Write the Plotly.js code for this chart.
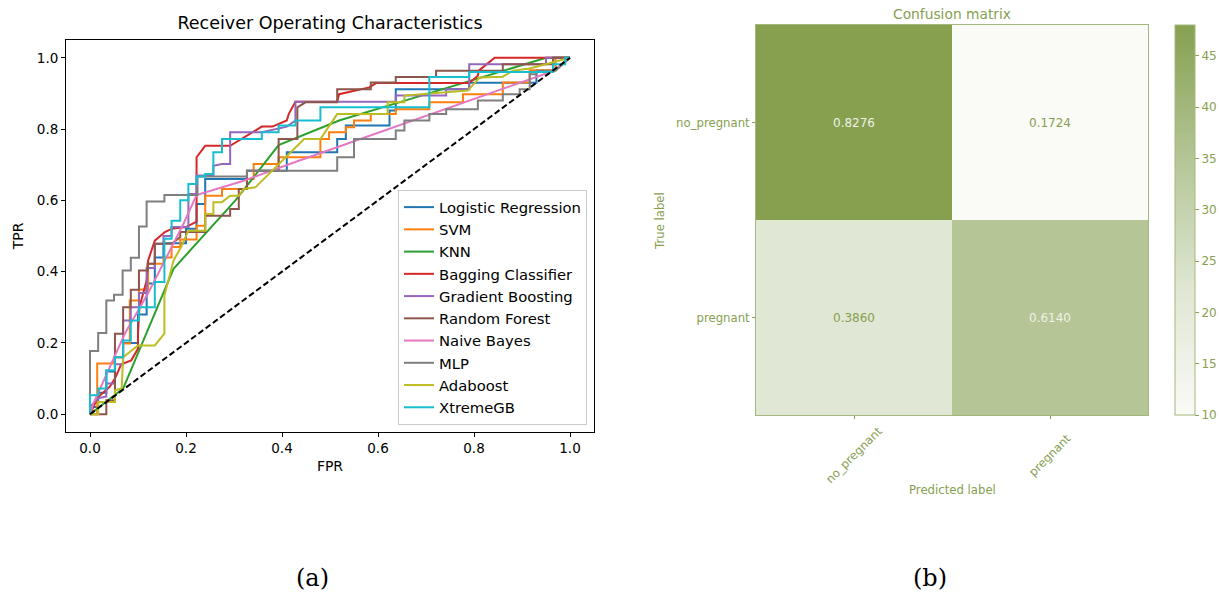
<!DOCTYPE html>
<html>
<head>
<meta charset="utf-8">
<script src="https://cdn.plot.ly/plotly-3.0.1.min.js"></script>
<style>
body { margin:0; background:#fff; }
#page { position:relative; width:1219px; height:593px; overflow:hidden; background:#fff; }
#roc { position:absolute; left:0; top:0; width:1219px; height:593px; }
#cmwrap { position:absolute; left:620px; top:0; width:700px; height:593px; }
#cm { width:700px; height:593px; }
</style>
</head>
<body>
<div id="page">
  <div id="roc"></div>
  <div id="cmwrap"><div id="cm"></div></div>
</div>
<script>
// ---------------- ROC data (FPR / TPR) ----------------
const modelNames = ['Logistic Regression','SVM','KNN','Bagging Classifier','Gradient Boosting','Random Forest','Naive Bayes','MLP','Adaboost','XtremeGB'];
const modelColors = ['#1f77b4','#ff7f0e','#2ca02c','#d62728','#9467bd','#8c564b','#e377c2','#7f7f7f','#bcbd22','#17becf'];

const lrFpr = [0,0,0.017,0.017,0.034,0.034,0.052,0.052,0.069,0.069,0.1,0.1,0.118,0.118,0.135,0.135,0.153,0.153,0.2,0.2,0.222,0.222,0.24,0.24,0.327,0.327,0.41,0.41,0.515,0.515,0.533,0.533,0.624,0.624,0.637,0.637,0.79,0.79,0.93,0.93,0.965,0.965,1];
const lrTpr = [0,0.02,0.02,0.06,0.06,0.12,0.12,0.16,0.16,0.2,0.2,0.28,0.28,0.367,0.367,0.44,0.44,0.48,0.48,0.52,0.52,0.59,0.59,0.66,0.66,0.683,0.683,0.735,0.735,0.772,0.772,0.81,0.81,0.852,0.852,0.912,0.912,0.93,0.93,0.964,0.964,1,1];

const svmFpr = [0,0.015,0.015,0.05,0.05,0.069,0.069,0.083,0.083,0.102,0.102,0.121,0.121,0.153,0.153,0.17,0.17,0.188,0.188,0.222,0.222,0.24,0.24,0.275,0.275,0.327,0.327,0.341,0.341,0.393,0.393,0.48,0.48,0.498,0.498,0.533,0.533,0.55,0.55,0.585,0.585,0.637,0.637,0.707,0.707,0.777,0.777,0.86,0.86,0.916,0.916,0.97,0.97,1];
const svmTpr = [0,0,0.142,0.142,0.16,0.16,0.198,0.198,0.319,0.319,0.35,0.35,0.422,0.422,0.44,0.44,0.469,0.469,0.49,0.49,0.529,0.529,0.613,0.613,0.632,0.632,0.66,0.66,0.702,0.702,0.721,0.721,0.772,0.772,0.791,0.791,0.805,0.805,0.824,0.824,0.842,0.842,0.856,0.856,0.875,0.875,0.898,0.898,0.931,0.931,0.965,0.965,1,1];

const knnFpr = [0,0.069,0.174,0.303,0.393,0.519,0.644,0.95,1];
const knnTpr = [0,0.072,0.408,0.6,0.755,0.824,0.875,1,1];

const bagFpr = [0,0.017,0.041,0.052,0.065,0.086,0.1,0.1,0.103,0.118,0.121,0.135,0.156,0.17,0.2,0.222,0.222,0.24,0.292,0.327,0.358,0.38,0.41,0.414,0.428,0.515,0.519,0.582,0.596,0.79,0.808,0.81,0.843,1];
const bagTpr = [0,0.048,0.077,0.1,0.14,0.151,0.184,0.226,0.3,0.375,0.431,0.487,0.511,0.52,0.525,0.54,0.721,0.753,0.753,0.781,0.807,0.807,0.824,0.842,0.877,0.877,0.898,0.917,0.929,0.929,0.95,0.964,1,1];

const gbFpr = [0,0,0.017,0.034,0.034,0.052,0.052,0.069,0.069,0.085,0.085,0.102,0.102,0.118,0.118,0.135,0.135,0.153,0.153,0.17,0.17,0.205,0.205,0.222,0.222,0.257,0.257,0.275,0.292,0.292,0.358,0.41,0.428,0.428,0.637,0.637,0.742,0.742,0.79,0.79,0.95,0.95,1];
const gbTpr = [0,0.02,0.045,0.05,0.086,0.086,0.14,0.14,0.263,0.263,0.3,0.3,0.34,0.34,0.41,0.41,0.478,0.478,0.5,0.5,0.525,0.525,0.618,0.618,0.67,0.67,0.697,0.702,0.702,0.791,0.791,0.807,0.824,0.877,0.877,0.894,0.894,0.912,0.912,0.982,0.982,1,1];

const rfFpr = [0,0.034,0.034,0.052,0.052,0.069,0.069,0.085,0.085,0.102,0.102,0.12,0.12,0.135,0.135,0.17,0.188,0.188,0.24,0.24,0.292,0.292,0.31,0.31,0.327,0.327,0.393,0.393,0.432,0.432,0.449,0.515,0.515,0.585,0.585,0.637,0.637,0.721,0.721,0.86,0.86,0.965,0.965,1];
const rfTpr = [0,0,0.039,0.039,0.226,0.226,0.3,0.3,0.349,0.349,0.403,0.403,0.422,0.422,0.478,0.478,0.497,0.511,0.511,0.557,0.557,0.576,0.576,0.632,0.632,0.683,0.683,0.772,0.772,0.861,0.875,0.875,0.912,0.912,0.931,0.931,0.946,0.946,0.964,0.964,0.982,0.982,1,1];

const nbFpr = [0,0.007,0.073,0.121,0.195,0.222,0.32,0.435,0.965,1];
const nbTpr = [0,0.03,0.227,0.339,0.535,0.615,0.655,0.711,0.963,1];

const mlpFpr = [0,0,0.017,0.017,0.034,0.034,0.05,0.05,0.068,0.068,0.085,0.085,0.102,0.102,0.118,0.118,0.155,0.155,0.224,0.224,0.327,0.327,0.515,0.515,0.55,0.55,0.637,0.637,0.655,0.655,0.707,0.707,0.742,0.742,0.808,0.808,0.86,0.86,0.895,0.895,0.916,0.916,0.93,0.93,0.97,1];
const mlpTpr = [0,0.177,0.177,0.228,0.228,0.319,0.319,0.335,0.335,0.403,0.403,0.439,0.439,0.527,0.527,0.597,0.597,0.615,0.615,0.667,0.667,0.683,0.683,0.721,0.721,0.772,0.772,0.796,0.796,0.824,0.824,0.842,0.842,0.856,0.856,0.88,0.88,0.898,0.898,0.912,0.912,0.954,0.954,0.964,0.964,1];

const adaFpr = [0,0.017,0.017,0.052,0.052,0.066,0.069,0.1,0.135,0.155,0.155,0.163,0.174,0.19,0.205,0.24,0.24,0.257,0.257,0.275,0.292,0.31,0.32,0.345,0.393,0.446,0.48,0.515,0.62,0.62,0.655,0.655,0.787,0.812,0.86,0.881,0.916,0.993,1];
const adaTpr = [0,0,0.034,0.034,0.067,0.072,0.16,0.193,0.193,0.226,0.333,0.375,0.431,0.47,0.515,0.515,0.562,0.562,0.595,0.595,0.613,0.613,0.632,0.637,0.702,0.772,0.772,0.842,0.842,0.875,0.875,0.894,0.908,0.945,0.947,0.964,0.97,0.996,1];

const xgbFpr = [0,0,0.017,0.017,0.034,0.034,0.052,0.052,0.069,0.069,0.085,0.085,0.102,0.102,0.135,0.135,0.155,0.155,0.17,0.17,0.188,0.188,0.205,0.205,0.222,0.222,0.24,0.24,0.257,0.257,0.275,0.275,0.358,0.358,0.393,0.393,0.428,0.428,0.48,0.48,0.707,0.707,0.79,0.79,0.965,0.965,0.99,0.99,1];
const xgbTpr = [0,0.053,0.053,0.072,0.072,0.123,0.123,0.16,0.16,0.207,0.207,0.263,0.263,0.3,0.3,0.371,0.371,0.492,0.492,0.543,0.543,0.6,0.6,0.646,0.646,0.667,0.667,0.674,0.674,0.735,0.735,0.772,0.772,0.791,0.791,0.81,0.81,0.824,0.824,0.861,0.861,0.946,0.946,0.96,0.96,0.982,0.982,1,1];

const chanceFpr = [0,1];
const chanceTpr = [0,1];

const rocFprs = [lrFpr,svmFpr,knnFpr,bagFpr,gbFpr,rfFpr,nbFpr,mlpFpr,adaFpr,xgbFpr];
const rocTprs = [lrTpr,svmTpr,knnTpr,bagTpr,gbTpr,rfTpr,nbTpr,mlpTpr,adaTpr,xgbTpr];
const rocTicks = [0,0.2,0.4,0.6,0.8,1.0];
const rocTickText = ['0.0','0.2','0.4','0.6','0.8','1.0'];

// ---------------- Confusion matrix data ----------------
const cmClasses = ['no_pregnant','pregnant'];
const cmCounts = [[48,10],[22,35]];
const cmNormalized = [[0.8276,0.1724],[0.3860,0.6140]];
const cbTicks = [10,15,20,25,30,35,40,45];

// ---------------- ROC figure ----------------
const FONT = 'DejaVu Sans, sans-serif';
const rocTraces = modelNames.map((n,i) => ({
  type:'scatter', mode:'lines', name:n, x:rocFprs[i], y:rocTprs[i],
  line:{color:modelColors[i], width:2}
}));
rocTraces.push({type:'scatter', mode:'lines', x:chanceFpr, y:chanceTpr, showlegend:false,
  line:{color:'#000', width:2, dash:'6px,3px'}});

const axBase = {showgrid:false, zeroline:false, showline:true, mirror:true, linecolor:'#000', linewidth:1,
  ticks:'outside', ticklen:4, tickcolor:'#000', tickfont:{family:FONT, size:13.5, color:'#000'},
  tickmode:'array', tickvals:rocTicks, ticktext:rocTickText};

const rocLayout = {
  width:1219, height:593,
  margin:{l:66, r:625, t:40, b:161},
  paper_bgcolor:'rgba(0,0,0,0)', plot_bgcolor:'#fff',
  font:{family:FONT, color:'#000'},
  title:{text:'Receiver Operating Characteristics', font:{family:FONT, size:17.5, color:'#000'},
    xref:'paper', x:0.5, xanchor:'center', yref:'container', y:1-23/593, yanchor:'middle'},
  xaxis:Object.assign({}, axBase, {range:[-0.05,1.05],
    title:{text:'FPR', font:{family:FONT, size:14, color:'#000'}, standoff:5}}),
  yaxis:Object.assign({}, axBase, {range:[-0.05,1.05],
    title:{text:'TPR', font:{family:FONT, size:14, color:'#000'}, standoff:9}}),
  legend:{x:(587-66)/528, xanchor:'right', y:(432-425)/392, yanchor:'bottom',
    bgcolor:'#fff', bordercolor:'#cccccc', borderwidth:1,
    font:{family:FONT, size:14.8, color:'#000'}, tracegroupgap:0},
  showlegend:true,
  annotations:[
    {text:'(a)', xref:'paper', yref:'paper', x:(312-66)/528, y:(432-578)/392, xanchor:'center', yanchor:'middle',
      showarrow:false, font:{family:'DejaVu Serif, serif', size:24, color:'#000'}},
    {text:'(b)', xref:'paper', yref:'paper', x:(930-66)/528, y:(432-578)/392, xanchor:'center', yanchor:'middle',
      showarrow:false, font:{family:'DejaVu Serif, serif', size:24, color:'#000'}}
  ]
};
Plotly.newPlot('roc', rocTraces, rocLayout, {staticPlot:true, displayModeBar:false});

// ---------------- Confusion matrix figure ----------------
const OL = '#86a050';
const OL_LINE = '#a3b87c';
const PW = 392; // plot width in px
const cmTrace = {
  type:'heatmap', x:cmClasses, y:cmClasses, z:cmCounts,
  zmin:10, zmax:48,
  colorscale:[[0,'#fafaf7'],[0.316,'#e0e7d4'],[0.658,'#b5c596'],[1,'#86a050']],
  xgap:0, ygap:0, hoverinfo:'none',
  colorbar:{x:(555-136)/PW, xanchor:'left', xpad:0, ypad:0, thickness:20, thicknessmode:'pixels',
    len:390, lenmode:'pixels', y:0.5, yanchor:'middle',
    outlinecolor:OL_LINE, outlinewidth:1,
    tickmode:'array', tickvals:cbTicks, ticks:'outside', ticklen:4, tickcolor:OL,
    tickfont:{family:FONT, size:12, color:OL}}
};
const cmAnn = [];
for (let r=0; r<2; r++) for (let c=0; c<2; c++) {
  const dark = cmCounts[r][c] > 29;
  cmAnn.push({x:cmClasses[c], y:cmClasses[r], xref:'x', yref:'y', text:cmNormalized[r][c].toFixed(4),
    showarrow:false, font:{family:FONT, size:12, color: dark ? '#eef2e6' : OL}});
}
// rotated x tick labels centred under ticks
cmClasses.forEach((c,i) => cmAnn.push({x:c, xref:'x', yref:'paper', y:-(455-415)/390, text:c, textangle:-45,
  showarrow:false, xanchor:'center', yanchor:'middle', font:{family:FONT, size:11.7, color:OL}}));
cmAnn.push({text:'Predicted label', xref:'paper', yref:'paper', x:0.5, y:-(490-415)/390, xanchor:'center', yanchor:'middle',
  showarrow:false, font:{family:FONT, size:11.7, color:OL}});
cmAnn.push({text:'True label', xref:'paper', yref:'paper', x:-(136-40)/PW, y:(415-221)/390, xanchor:'center', yanchor:'middle',
  textangle:-90, showarrow:false, font:{family:FONT, size:11.7, color:OL}});

const cmLayout = {
  width:700, height:593,
  margin:{l:136, r:700-136-PW, t:25, b:178},
  paper_bgcolor:'rgba(0,0,0,0)', plot_bgcolor:'#fff',
  font:{family:FONT, color:OL},
  title:{text:'Confusion matrix', font:{family:FONT, size:13.8, color:OL},
    xref:'paper', x:0.5, xanchor:'center', yref:'container', y:1-14/593, yanchor:'middle'},
  xaxis:{type:'category', range:[-0.5,1.5], showgrid:false, zeroline:false, showline:true, mirror:true,
    linecolor:OL_LINE, linewidth:1, ticks:'outside', ticklen:3, tickcolor:OL, showticklabels:false},
  yaxis:{type:'category', range:[1.5,-0.5], showgrid:false, zeroline:false, showline:true, mirror:true,
    linecolor:OL_LINE, linewidth:1, ticks:'outside', ticklen:3, tickcolor:OL,
    tickfont:{family:FONT, size:11.7, color:OL}},
  annotations:cmAnn
};
Plotly.newPlot('cm', [cmTrace], cmLayout, {staticPlot:true, displayModeBar:false});
</script>
</body>
</html>
